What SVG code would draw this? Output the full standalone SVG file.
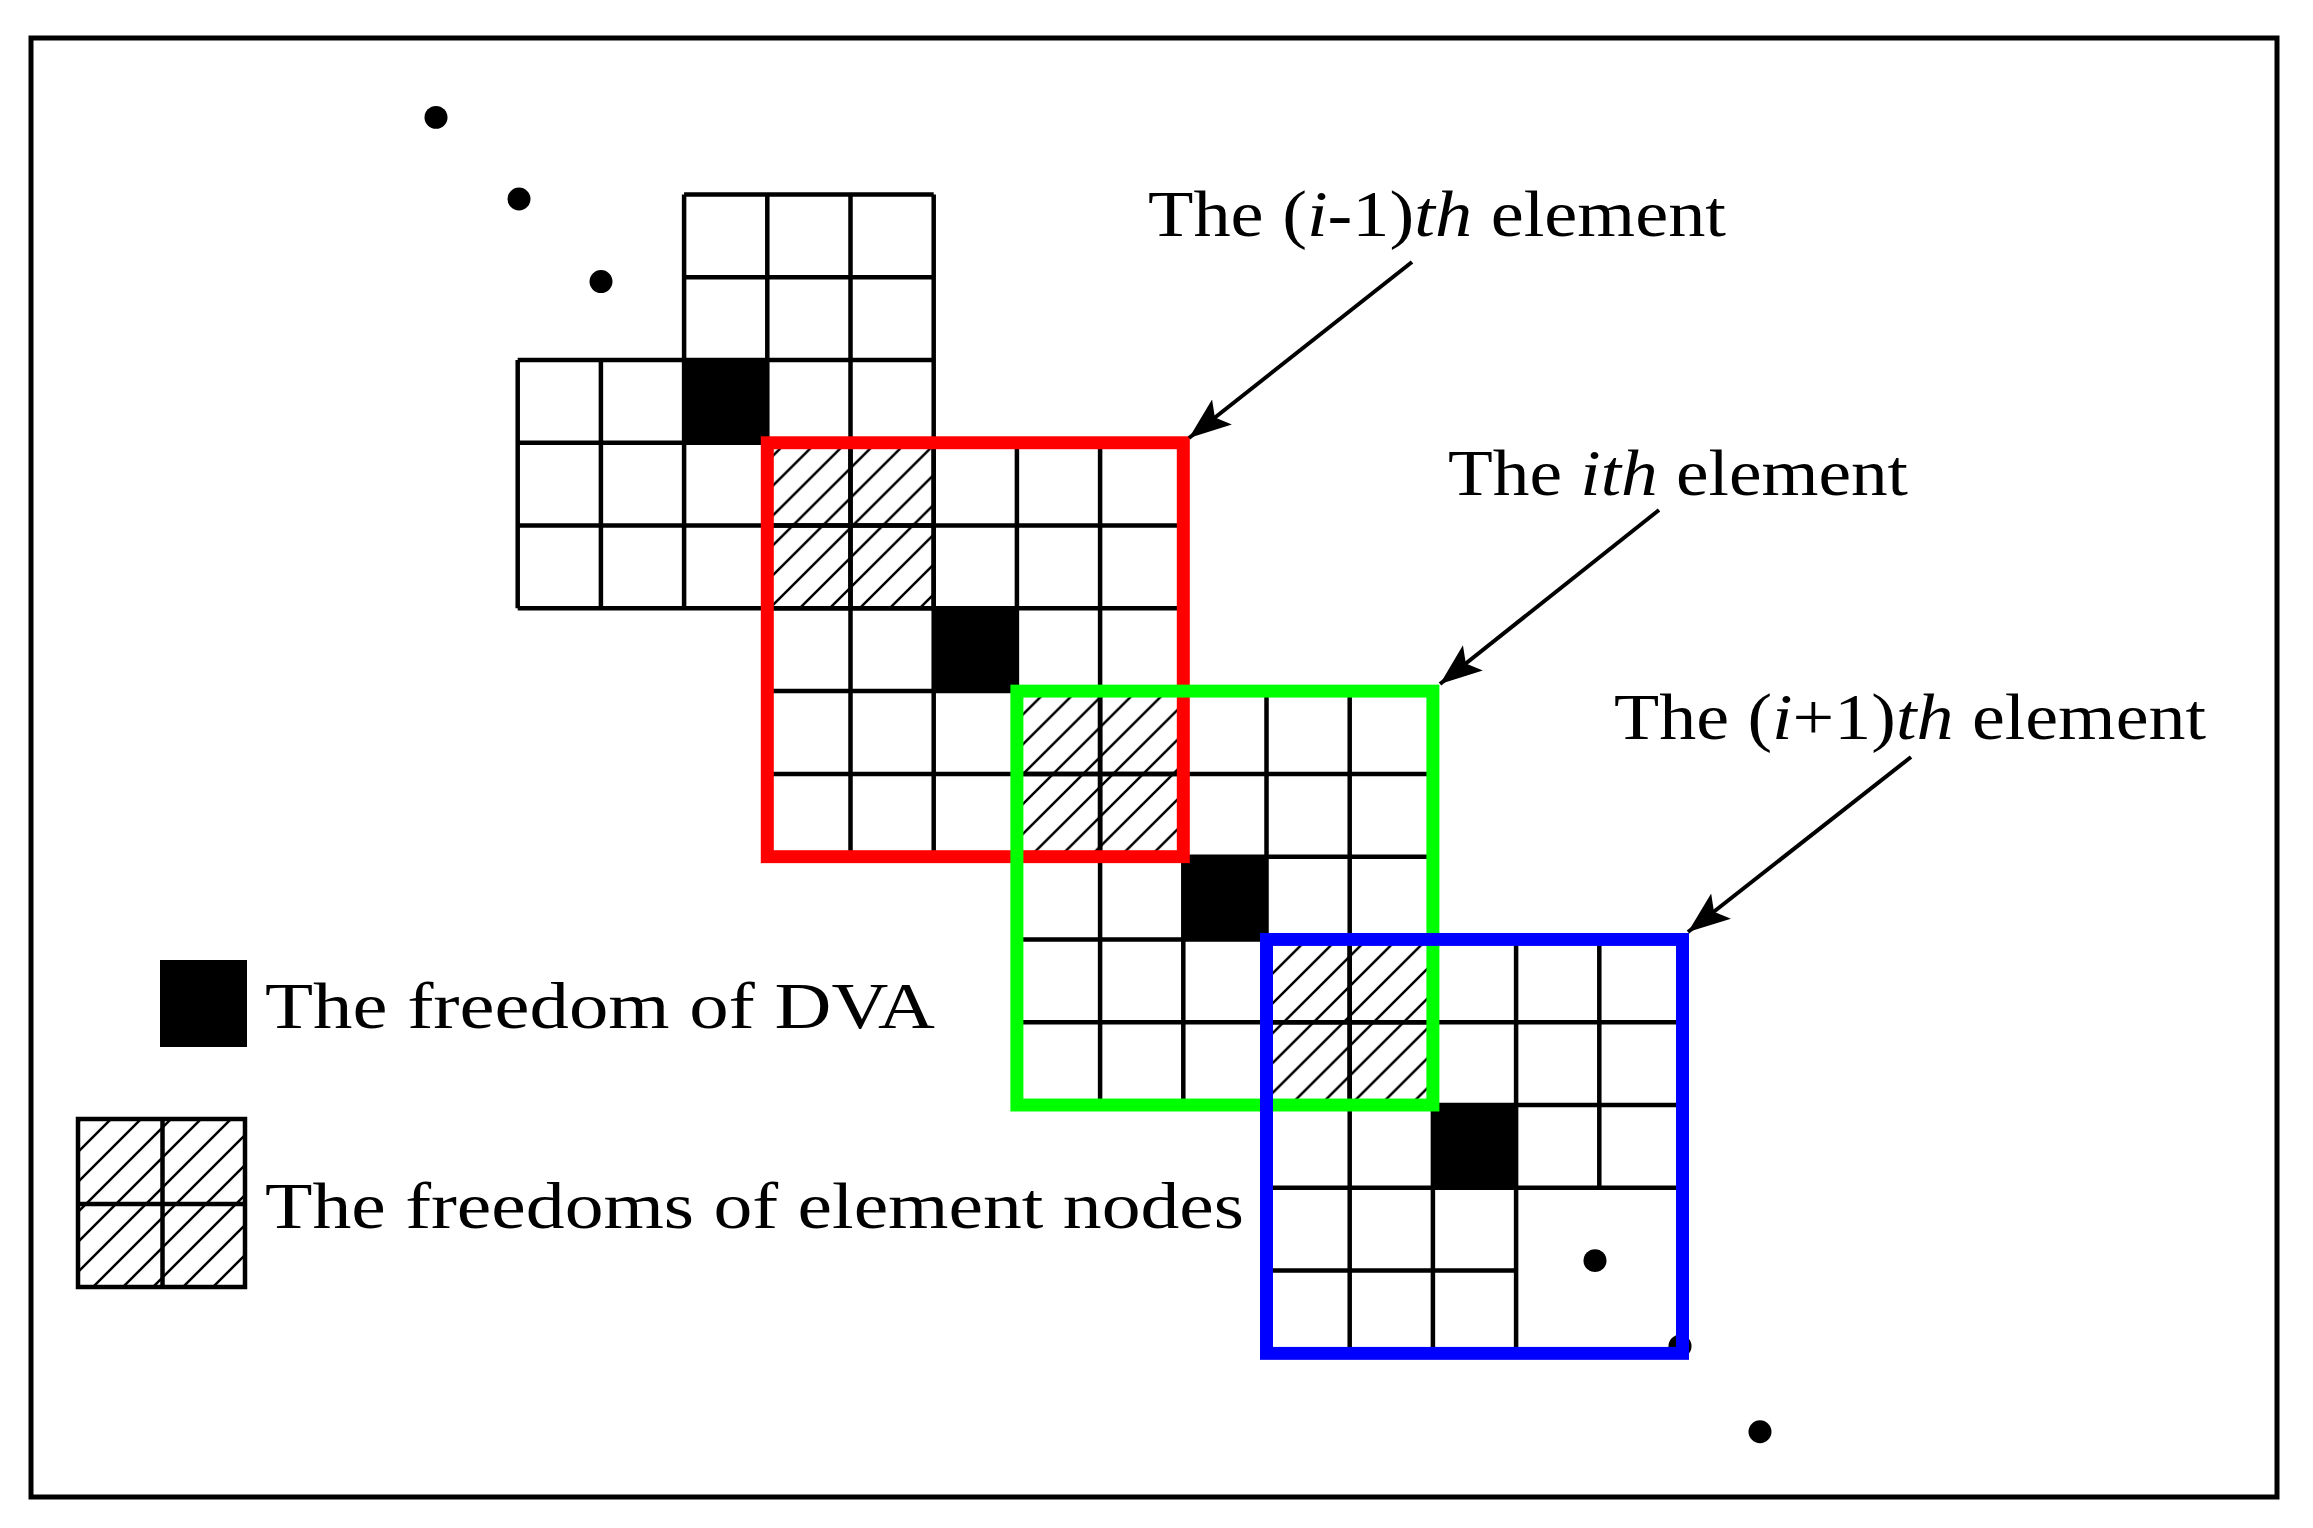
<svg xmlns="http://www.w3.org/2000/svg" width="2313" height="1528" viewBox="0 0 2313 1528">
<style>
.g{fill:none;stroke:#000;stroke-width:4.5}
.b{fill:#000}
.h{fill:url(#hatch)}
.f{fill:none;stroke-width:13}
.t{font-family:"Liberation Serif","Times New Roman",serif;font-size:66px;fill:#000}
.a{stroke:#000;stroke-width:4;fill:none;marker-end:url(#ah)}
</style>
<defs>
<pattern id="hatch" patternUnits="userSpaceOnUse" width="30" height="30">
<path d="M-5,35L35,-5M-5,5L5,-5M25,35L35,25" stroke="#000" stroke-width="2.5"/>
</pattern>
<marker id="ah" markerUnits="userSpaceOnUse" markerWidth="50" markerHeight="40" refX="42" refY="16" orient="auto">
<path d="M0,0L42,16L0,32L9,16Z" fill="#000"/>
</marker>
</defs>
<rect x="0" y="0" width="2313" height="1528" fill="#fff"/>
<rect x="31" y="38" width="2246" height="1459" fill="none" stroke="#000" stroke-width="5"/>

<g transform="translate(0,194.4) scale(1,0.995) translate(0,-194.4)">
<g id="dots">
<circle cx="436" cy="117" r="11.5"/>
<circle cx="519" cy="199" r="11.5"/>
<circle cx="601" cy="282" r="11.5"/>
<circle cx="1595" cy="1266" r="11.5"/>
<circle cx="1680" cy="1352" r="11.5"/>
<circle cx="1760" cy="1438" r="11.5"/>
</g>

<g id="element-prev">
<rect class="b" x="684.1" y="360.8" width="83.2" height="83.2"/>
<path class="g" d="M684.1,194.4H933.7M684.1,277.6H933.7M517.7,360.8H933.7M517.7,444H933.7M517.7,527.2H933.7M517.7,610.4H933.7M517.7,360.8V610.4M600.9,360.8V610.4M684.1,194.4V610.4M767.3,194.4V610.4M850.5,194.4V610.4M933.7,194.4V610.4"/>
</g>

<g id="element-i-1">
<rect class="h" x="767.3" y="444" width="166.4" height="166.4"/>
<rect class="b" x="933.7" y="610.4" width="83.2" height="83.2"/>
<path class="g" d="M767.3,444H1183.3M767.3,527.2H1183.3M767.3,610.4H1183.3M767.3,693.6H1183.3M767.3,776.8H1183.3M767.3,860H1183.3M767.3,444V860M850.5,444V860M933.7,444V860M1016.9,444V860M1100.1,444V860M1183.3,444V860"/>
</g>

<g id="element-i">
<rect class="h" x="1016.9" y="693.6" width="166.4" height="166.4"/>
<rect class="b" x="1183.3" y="860" width="83.2" height="83.2"/>
<path class="g" d="M1016.9,693.6H1432.9M1016.9,776.8H1432.9M1016.9,860H1432.9M1016.9,943.2H1432.9M1016.9,1026.4H1432.9M1016.9,1109.6H1432.9M1016.9,693.6V1109.6M1100.1,693.6V1109.6M1183.3,693.6V1109.6M1266.5,693.6V1109.6M1349.7,693.6V1109.6M1432.9,693.6V1109.6"/>
</g>

<g id="element-i1">
<rect class="h" x="1266.5" y="943.2" width="166.4" height="166.4"/>
<rect class="b" x="1432.9" y="1109.6" width="83.2" height="83.2"/>
<path class="g" d="M1266.5,943.2H1682.5M1266.5,1026.4H1682.5M1266.5,1109.6H1682.5M1266.5,1192.8H1682.5M1266.5,1276H1516.1M1266.5,1359.2H1682.5M1266.5,943.2V1359.2M1349.7,943.2V1359.2M1432.9,943.2V1359.2M1516.1,943.2V1359.2M1599.3,943.2V1192.8M1682.5,943.2V1359.2"/>
</g>

<g id="frames">
<rect class="f" stroke="#ff0000" x="767.3" y="444" width="416" height="416"/>
<rect class="f" stroke="#00ff00" x="1016.9" y="693.6" width="416" height="416"/>
<rect class="f" stroke="#0000ff" x="1266.5" y="943.2" width="416" height="416"/>
</g>
</g>

<g id="connectors">
<line class="a" x1="1412" y1="262" x2="1189" y2="438"/>
<line class="a" x1="1659" y1="510" x2="1440" y2="684"/>
<line class="a" x1="1911" y1="757" x2="1688" y2="932"/>
</g>

<g id="labels">
<text class="t" x="1148" y="236" textLength="578" lengthAdjust="spacingAndGlyphs">The (<tspan font-style="italic">i</tspan>-1)<tspan font-style="italic">th</tspan> element</text>
<text class="t" x="1448" y="495" textLength="460" lengthAdjust="spacingAndGlyphs">The <tspan font-style="italic">ith</tspan> element</text>
<text class="t" x="1614" y="739" textLength="592" lengthAdjust="spacingAndGlyphs">The (<tspan font-style="italic">i</tspan>+1)<tspan font-style="italic">th</tspan> element</text>
</g>

<g id="legend">
<rect class="b" x="160" y="960" width="87" height="87"/>
<text class="t" x="265" y="1028" textLength="670" lengthAdjust="spacingAndGlyphs">The  freedom  of  DVA</text>
<rect class="h" x="78" y="1119" width="167" height="168"/>
<path class="g" d="M78,1119H245V1287H78ZM162.5,1119V1287M78,1204H245"/>
<text class="t" x="265" y="1228" textLength="979" lengthAdjust="spacingAndGlyphs">The  freedoms  of element  nodes</text>
</g>
</svg>
